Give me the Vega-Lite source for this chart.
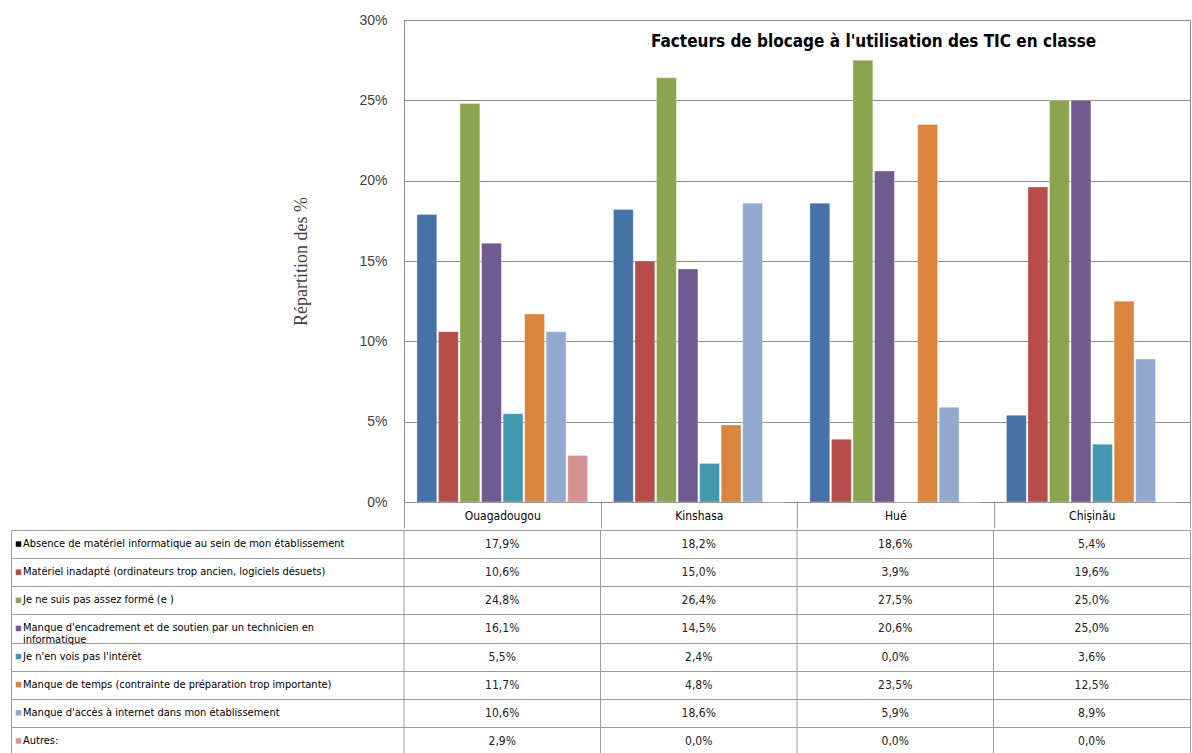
{
  "$schema": "https://vega.github.io/schema/vega-lite/v6.json",
  "padding": {"left": 10, "top": 12, "right": 0, "bottom": 0},
  "config": {
    "locale": {"number": {"decimal": ",", "thousands": ".", "grouping": [3], "currency": ["", "€"]}},
    "view": {"stroke": null},
    "font": "Liberation Sans",
    "axis": {"labelFont": "Liberation Sans", "titleFont": "Liberation Sans"}
  },
  "datasets": {
    "d": [
      {"ville": "Ouagadougou", "facteur": "Absence de matériel informatique au sein de mon établissement", "pct": 0.179},
      {"ville": "Kinshasa", "facteur": "Absence de matériel informatique au sein de mon établissement", "pct": 0.182},
      {"ville": "Hué", "facteur": "Absence de matériel informatique au sein de mon établissement", "pct": 0.186},
      {"ville": "Chișinău", "facteur": "Absence de matériel informatique au sein de mon établissement", "pct": 0.054},
      {"ville": "Ouagadougou", "facteur": "Matériel inadapté (ordinateurs trop ancien, logiciels désuets)", "pct": 0.106},
      {"ville": "Kinshasa", "facteur": "Matériel inadapté (ordinateurs trop ancien, logiciels désuets)", "pct": 0.150},
      {"ville": "Hué", "facteur": "Matériel inadapté (ordinateurs trop ancien, logiciels désuets)", "pct": 0.039},
      {"ville": "Chișinău", "facteur": "Matériel inadapté (ordinateurs trop ancien, logiciels désuets)", "pct": 0.196},
      {"ville": "Ouagadougou", "facteur": "Je ne suis pas assez formé (e )", "pct": 0.248},
      {"ville": "Kinshasa", "facteur": "Je ne suis pas assez formé (e )", "pct": 0.264},
      {"ville": "Hué", "facteur": "Je ne suis pas assez formé (e )", "pct": 0.275},
      {"ville": "Chișinău", "facteur": "Je ne suis pas assez formé (e )", "pct": 0.250},
      {"ville": "Ouagadougou", "facteur": "Manque d'encadrement et de soutien par un technicien en\ninformatique", "pct": 0.161},
      {"ville": "Kinshasa", "facteur": "Manque d'encadrement et de soutien par un technicien en\ninformatique", "pct": 0.145},
      {"ville": "Hué", "facteur": "Manque d'encadrement et de soutien par un technicien en\ninformatique", "pct": 0.206},
      {"ville": "Chișinău", "facteur": "Manque d'encadrement et de soutien par un technicien en\ninformatique", "pct": 0.250},
      {"ville": "Ouagadougou", "facteur": "Je n'en vois pas l'intérêt", "pct": 0.055},
      {"ville": "Kinshasa", "facteur": "Je n'en vois pas l'intérêt", "pct": 0.024},
      {"ville": "Hué", "facteur": "Je n'en vois pas l'intérêt", "pct": 0.0},
      {"ville": "Chișinău", "facteur": "Je n'en vois pas l'intérêt", "pct": 0.036},
      {"ville": "Ouagadougou", "facteur": "Manque de temps (contrainte de préparation trop importante)", "pct": 0.117},
      {"ville": "Kinshasa", "facteur": "Manque de temps (contrainte de préparation trop importante)", "pct": 0.048},
      {"ville": "Hué", "facteur": "Manque de temps (contrainte de préparation trop importante)", "pct": 0.235},
      {"ville": "Chișinău", "facteur": "Manque de temps (contrainte de préparation trop importante)", "pct": 0.125},
      {"ville": "Ouagadougou", "facteur": "Manque d'accès à internet dans mon établissement", "pct": 0.106},
      {"ville": "Kinshasa", "facteur": "Manque d'accès à internet dans mon établissement", "pct": 0.186},
      {"ville": "Hué", "facteur": "Manque d'accès à internet dans mon établissement", "pct": 0.059},
      {"ville": "Chișinău", "facteur": "Manque d'accès à internet dans mon établissement", "pct": 0.089},
      {"ville": "Ouagadougou", "facteur": "Autres:", "pct": 0.029},
      {"ville": "Kinshasa", "facteur": "Autres:", "pct": 0.0},
      {"ville": "Hué", "facteur": "Autres:", "pct": 0.0},
      {"ville": "Chișinău", "facteur": "Autres:", "pct": 0.0}
    ]
  },
  "spacing": 0,
  "vconcat": [
    {
      "bounds": "flush",
      "spacing": 0,
      "hconcat": [
        {"width": 393, "height": 482, "data": {"values": []}, "mark": "point", "encoding": {}},
        {
          "width": 786,
          "height": 482,
          "data": {"name": "d"},
          "view": {"stroke": "#8c8c8c"},
          "title": {"text": "Facteurs de blocage à l'utilisation des TIC en classe", "anchor": "start", "frame": "group", "dx": 247, "offset": -38, "font": "Liberation Sans Narrow, Arial Narrow, DejaVu Sans Condensed, sans-serif", "fontSize": 17, "fontWeight": "bold", "color": "#000000"},
          "mark": {"type": "bar", "stroke": "#ffffff", "strokeWidth": 0.6, "strokeOpacity": 0.5},
          "encoding": {
            "x": {"field": "ville", "type": "nominal",
              "scale": {"domain": ["Ouagadougou", "Kinshasa", "Hué", "Chișinău"], "paddingInner": 0, "paddingOuter": 0},
              "axis": {"title": null, "labelAngle": 0, "tickBand": "extent", "ticks": true, "tickSize": 26, "tickColor": "#9c9c9c", "domainColor": "#8c8c8c", "labelBaseline": "middle", "labelPadding": -13, "labelFontSize": 12, "labelColor": "#000000", "labelFont": "Liberation Sans Narrow, Arial Narrow, DejaVu Sans Condensed, sans-serif"}},
            "xOffset": {"field": "facteur", "type": "nominal",
              "scale": {"domain": ["Absence de matériel informatique au sein de mon établissement", "Matériel inadapté (ordinateurs trop ancien, logiciels désuets)", "Je ne suis pas assez formé (e )", "Manque d'encadrement et de soutien par un technicien en\ninformatique", "Je n'en vois pas l'intérêt", "Manque de temps (contrainte de préparation trop importante)", "Manque d'accès à internet dans mon établissement", "Autres:"], "paddingInner": 0.08, "paddingOuter": 0.6}},
            "y": {"field": "pct", "type": "quantitative",
              "scale": {"domain": [0, 0.3], "nice": false},
              "axis": {"values": [0, 0.05, 0.1, 0.15, 0.2, 0.25, 0.3], "format": ".0%", "title": "Répartition des %", "grid": true, "gridColor": "#8c8c8c", "ticks": false, "domainColor": "#8c8c8c", "labelFlush": false, "labelFontSize": 14, "labelColor": "#404040", "labelPadding": 17, "titleFont": "Liberation Serif", "titleFontSize": 18, "titleFontWeight": "normal", "titleColor": "#404040", "titlePadding": 48}},
            "color": {"field": "facteur", "type": "nominal",
              "scale": {"domain": ["Absence de matériel informatique au sein de mon établissement", "Matériel inadapté (ordinateurs trop ancien, logiciels désuets)", "Je ne suis pas assez formé (e )", "Manque d'encadrement et de soutien par un technicien en\ninformatique", "Je n'en vois pas l'intérêt", "Manque de temps (contrainte de préparation trop importante)", "Manque d'accès à internet dans mon établissement", "Autres:"],
                "range": ["#4672A8", "#B84C4A", "#89A54E", "#715A8F", "#4299B0", "#DB843D", "#93A9D0", "#D49493"]},
              "legend": null}
          }
        }
      ]
    },
    {
      "width": 1179,
      "height": 225,
      "data": {"name": "d"},
      "view": {"stroke": "#9c9c9c"},
      "layer": [
        {
          "mark": {"type": "text", "fontSize": 12, "font": "Liberation Sans Narrow, Arial Narrow, DejaVu Sans Condensed, sans-serif", "color": "#222222"},
          "encoding": {
            "x": {"field": "ville", "type": "nominal",
              "scale": {"domain": ["L", "L2", "Ouagadougou", "Kinshasa", "Hué", "Chișinău"], "paddingInner": 0, "paddingOuter": 0},
              "axis": null},
            "y": {"field": "facteur", "type": "nominal",
              "scale": {"domain": ["Absence de matériel informatique au sein de mon établissement", "Matériel inadapté (ordinateurs trop ancien, logiciels désuets)", "Je ne suis pas assez formé (e )", "Manque d'encadrement et de soutien par un technicien en\ninformatique", "Je n'en vois pas l'intérêt", "Manque de temps (contrainte de préparation trop importante)", "Manque d'accès à internet dans mon établissement", "Autres:"], "paddingInner": 0, "paddingOuter": 0},
              "axis": {"title": null, "labels": false, "ticks": false, "domain": false, "grid": true, "tickBand": "extent", "gridColor": "#9c9c9c"}},
            "text": {"field": "pct", "type": "quantitative", "format": ".1%"}
          }
        },
        {
          "transform": [{"filter": "datum.facteur === 'Autres:'"}],
          "mark": {"type": "rule", "color": "#9c9c9c", "strokeWidth": 1},
          "encoding": {
            "x": {"field": "ville", "type": "nominal", "bandPosition": 0}
          }
        },
        {
          "transform": [{"filter": "datum.ville === 'Ouagadougou'"}],
          "mark": {"type": "text", "align": "left", "xOffset": 12, "fontSize": 11, "font": "Liberation Sans Narrow, Arial Narrow, DejaVu Sans Condensed, sans-serif", "lineBreak": "\n", "lineHeight": 12, "color": "#000000"},
          "encoding": {
            "x": {"datum": "L", "bandPosition": 0},
            "y": {"field": "facteur", "type": "nominal"},
            "text": {"field": "facteur", "type": "nominal"}
          }
        },
        {
          "transform": [{"filter": "datum.ville === 'Ouagadougou'"}],
          "mark": {"type": "square", "size": 30, "filled": true, "opacity": 1, "xOffset": 7.5},
          "encoding": {
            "x": {"datum": "L", "bandPosition": 0},
            "y": {"field": "facteur", "type": "nominal"},
            "color": {
              "condition": {"test": "datum.facteur === 'Absence de matériel informatique au sein de mon établissement'", "value": "#000000"},
              "field": "facteur", "type": "nominal",
              "scale": {"domain": ["Absence de matériel informatique au sein de mon établissement", "Matériel inadapté (ordinateurs trop ancien, logiciels désuets)", "Je ne suis pas assez formé (e )", "Manque d'encadrement et de soutien par un technicien en\ninformatique", "Je n'en vois pas l'intérêt", "Manque de temps (contrainte de préparation trop importante)", "Manque d'accès à internet dans mon établissement", "Autres:"],
                "range": ["#4672A8", "#B84C4A", "#89A54E", "#715A8F", "#4299B0", "#DB843D", "#93A9D0", "#D49493"]},
              "legend": null}
          }
        }
      ]
    }
  ]
}
